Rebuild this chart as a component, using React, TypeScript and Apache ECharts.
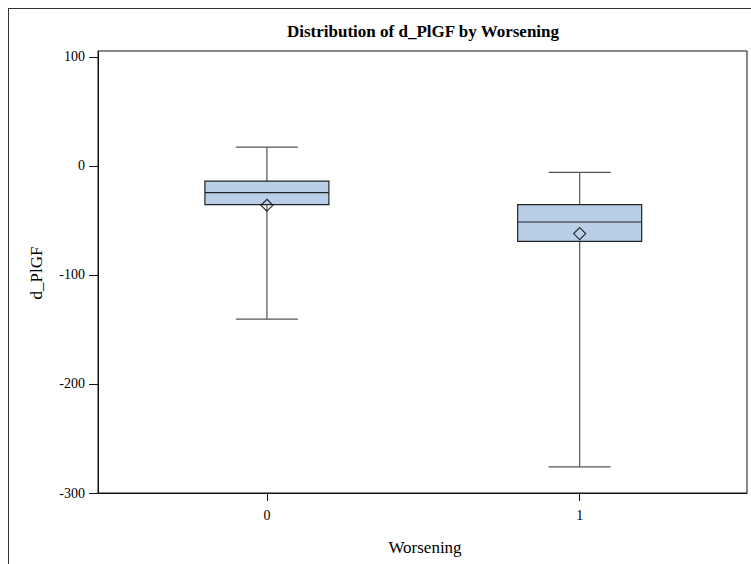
import React, { useEffect, useRef } from "react";
import * as echarts from "echarts";

const categories = ["0", "1"];
const minVals = [-140.4, -276];
const q1Vals = [-35.4, -69.1];
const medianVals = [-24.4, -51.4];
const q3Vals = [-13.8, -35.4];
const maxVals = [17.4, -5.8];
const meanVals = [-36, -62];
const yTicks = [-300, -200, -100, 0, 100];
const xTicks = [0, 1];

const SERIF = "Liberation Serif";

export default function App() {
  const ref = useRef<HTMLDivElement>(null);
  useEffect(() => {
    document.body.style.margin = "0";
    const chart = echarts.init(ref.current!, null, { renderer: "svg" });
    const boxData = categories.map((_, i) => [i, minVals[i], q1Vals[i], medianVals[i], q3Vals[i], maxVals[i]]);
    const meanData = categories.map((_, i) => [i, meanVals[i]]);
    const BOX_W = 124;
    const CAP_W = 62;
    chart.setOption({
      animation: false,
      backgroundColor: "#fff",
      textStyle: { fontFamily: SERIF },
      grid: { left: 98, right: 4, top: 51, bottom: 71, show: true, borderColor: "#111", borderWidth: 1, backgroundColor: "transparent" },
      graphic: [
        { type: "line", shape: { x1: 8.5, y1: 8, x2: 8.5, y2: 564 }, style: { stroke: "#333", lineWidth: 1 } },
        { type: "line", shape: { x1: 8, y1: 8.5, x2: 751, y2: 8.5 }, style: { stroke: "#333", lineWidth: 1 } },
        {
          type: "text", x: 423, y: 31,
          style: { text: "Distribution of d_PlGF by Worsening", textAlign: "center", textVerticalAlign: "middle", font: `bold 17px "Liberation Serif"`, fill: "#000" },
        },
        {
          type: "text", x: 425, y: 547,
          style: { text: "Worsening", textAlign: "center", textVerticalAlign: "middle", font: `17px "Liberation Serif"`, fill: "#000" },
        },
        {
          type: "text", x: 36, y: 273, rotation: Math.PI / 2,
          style: { text: "d_PlGF", textAlign: "center", textVerticalAlign: "middle", font: `17px "Liberation Serif"`, fill: "#000" },
        },
      ],
      xAxis: {
        type: "value", min: -0.54, max: 1.535,
        axisLine: { show: true, onZero: false, lineStyle: { color: "#111", width: 1 } },
        axisTick: { show: true, customValues: xTicks, length: 8, lineStyle: { color: "#111" } },
        axisLabel: { customValues: xTicks, margin: 15, fontFamily: SERIF, fontSize: 14, color: "#000", formatter: (v: number) => categories[Math.round(v)] ?? "" },
        splitLine: { show: false },
      },
      yAxis: {
        type: "value", min: -300, max: 105.5,
        axisLine: { show: true, onZero: false, lineStyle: { color: "#111", width: 1 } },
        axisTick: { show: true, customValues: yTicks, length: 9, lineStyle: { color: "#111" } },
        axisLabel: { customValues: yTicks, margin: 13, fontFamily: SERIF, fontSize: 14, color: "#000" },
        splitLine: { show: false },
      },
      series: [
        {
          type: "custom",
          data: boxData,
          encode: { x: 0, y: [1, 2, 3, 4, 5] },
          renderItem: (params: any, api: any) => {
            const x = api.value(0);
            const cx = api.coord([x, api.value(1)])[0];
            const yMin = api.coord([x, api.value(1)])[1];
            const yQ1 = api.coord([x, api.value(2)])[1];
            const yMed = api.coord([x, api.value(3)])[1];
            const yQ3 = api.coord([x, api.value(4)])[1];
            const yMax = api.coord([x, api.value(5)])[1];
            const wStyle = { stroke: "#555", lineWidth: 1.2 };
            return {
              type: "group",
              children: [
                { type: "line", shape: { x1: cx, y1: yQ3, x2: cx, y2: yMax }, style: wStyle },
                { type: "line", shape: { x1: cx, y1: yQ1, x2: cx, y2: yMin }, style: wStyle },
                { type: "line", shape: { x1: cx - CAP_W / 2, y1: yMax, x2: cx + CAP_W / 2, y2: yMax }, style: wStyle },
                { type: "line", shape: { x1: cx - CAP_W / 2, y1: yMin, x2: cx + CAP_W / 2, y2: yMin }, style: wStyle },
                { type: "rect", shape: { x: cx - BOX_W / 2, y: yQ3, width: BOX_W, height: yQ1 - yQ3 }, style: { fill: "#B9CFE8", stroke: "#222", lineWidth: 1.2 } },
                { type: "line", shape: { x1: cx - BOX_W / 2, y1: yMed, x2: cx + BOX_W / 2, y2: yMed }, style: { stroke: "#222", lineWidth: 1.2 } },
              ],
            };
          },
          z: 2,
        },
        {
          type: "scatter",
          data: meanData,
          symbol: "diamond",
          symbolSize: [12, 12],
          itemStyle: { color: "rgba(0,0,0,0)", borderColor: "#000", borderWidth: 1.2 },
          z: 3,
        },
      ],
    });
    return () => chart.dispose();
  }, []);
  return <div ref={ref} style={{ width: 751, height: 564 }} />;
}
